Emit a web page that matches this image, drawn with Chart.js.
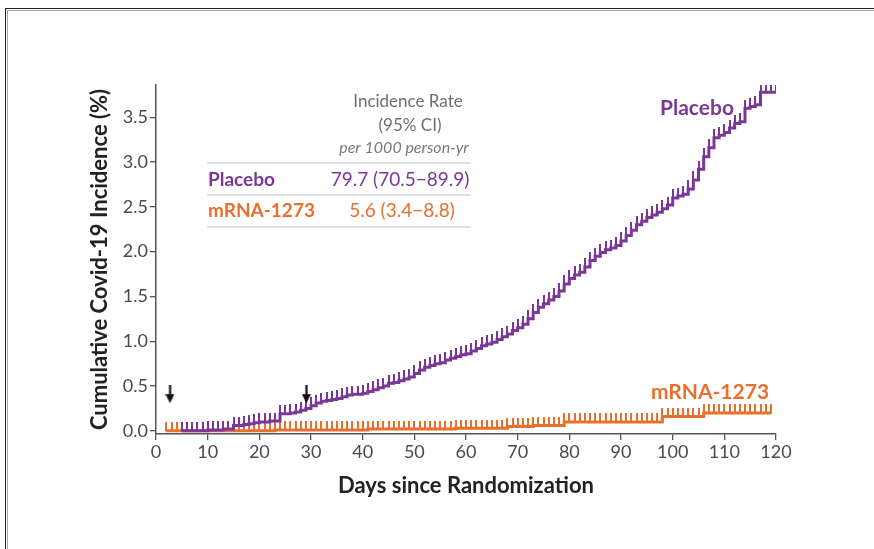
<!DOCTYPE html>
<html>
<head>
<meta charset="utf-8">
<script src="https://cdn.jsdelivr.net/npm/chart.js@4/dist/chart.umd.min.js"></script>
<style>
  html, body { margin: 0; padding: 0; background: #fff; }
  #wrap { position: relative; width: 874px; height: 549px; overflow: hidden; }
  #frame { position: absolute; left: 5px; top: 8px; width: 900px; height: 600px;
           border-top: 1px solid #222; border-left: 1px solid #222; }
  #frame2 { position: absolute; left: 7px; top: 10px; width: 900px; height: 600px;
            border-top: 1px solid #aaa; border-left: 1px solid #aaa; }
  canvas { position: absolute; left: 0; top: 0; }
</style>
</head>
<body>
<div id="wrap">
  <div id="frame"></div>
  <div id="frame2"></div>
  <canvas id="km" width="874" height="549"></canvas>
</div>
<script>
// Kaplan-Meier style cumulative incidence (percent, by day)
const placeboFirstDay = 5;
const placeboPct = [
  0.00, 0.00, 0.00, 0.00, 0.00, 0.01, 0.01, 0.01, 0.02, 0.02,   // days 5-14
  0.06, 0.06, 0.07, 0.08, 0.09, 0.10, 0.10, 0.11, 0.11, 0.19,   // 15-24
  0.19, 0.20, 0.21, 0.23, 0.25, 0.28, 0.31, 0.33, 0.34, 0.35,   // 25-34
  0.36, 0.38, 0.40, 0.41, 0.41, 0.42, 0.44, 0.46, 0.48, 0.50,   // 35-44
  0.53, 0.54, 0.56, 0.58, 0.60, 0.64, 0.68, 0.71, 0.73, 0.75,   // 45-54
  0.76, 0.79, 0.81, 0.83, 0.85, 0.86, 0.89, 0.92, 0.95, 0.97,   // 55-64
  0.99, 1.02, 1.05, 1.08, 1.12, 1.15, 1.19, 1.25, 1.32, 1.38,   // 65-74
  1.42, 1.46, 1.50, 1.56, 1.64, 1.70, 1.74, 1.77, 1.83, 1.90,   // 75-84
  1.95, 1.99, 2.02, 2.04, 2.07, 2.12, 2.18, 2.24, 2.30, 2.34,   // 85-94
  2.38, 2.41, 2.44, 2.48, 2.52, 2.60, 2.62, 2.64, 2.70, 2.80,   // 95-104
  2.92, 3.06, 3.16, 3.27, 3.30, 3.33, 3.38, 3.43, 3.45, 3.60,   // 105-114
  3.62, 3.64, 3.78, 3.78, 3.78, 3.78                            // 115-120
];

const vaccineFirstDay = 2;
const vaccinePct = [
  0.00, 0.00, 0.00, 0.00, 0.00, 0.00, 0.00, 0.00, 0.00, 0.00,   // days 2-11
  0.00, 0.00, 0.00, 0.00, 0.00, 0.00, 0.00, 0.00, 0.00, 0.00,   // 12-21
  0.00, 0.01, 0.01, 0.01, 0.01, 0.01, 0.01, 0.01, 0.01, 0.01,   // 22-31
  0.01, 0.01, 0.01, 0.01, 0.01, 0.01, 0.01, 0.01, 0.01, 0.02,   // 32-41
  0.02, 0.02, 0.02, 0.02, 0.02, 0.02, 0.02, 0.02, 0.02, 0.02,   // 42-51
  0.02, 0.02, 0.02, 0.02, 0.02, 0.02, 0.03, 0.03, 0.03, 0.03,   // 52-61
  0.03, 0.03, 0.03, 0.03, 0.03, 0.03, 0.05, 0.05, 0.05, 0.05,   // 62-71
  0.05, 0.06, 0.06, 0.06, 0.06, 0.06, 0.06, 0.10, 0.10, 0.10,   // 72-81
  0.10, 0.10, 0.10, 0.10, 0.10, 0.10, 0.10, 0.10, 0.10, 0.10,   // 82-91
  0.10, 0.10, 0.10, 0.10, 0.10, 0.10, 0.16, 0.16, 0.16, 0.16,   // 92-101
  0.16, 0.16, 0.16, 0.16, 0.20, 0.20, 0.20, 0.20, 0.20, 0.20,   // 102-111
  0.20, 0.20, 0.20, 0.20, 0.20, 0.20, 0.20, 0.20                // 112-119
];

// arrows marking day of dose 1 and dose 2
const doseDays = [2.7, 29.1];
const doseArrowPct = [0.41, 0.41];

const xTicks = [0, 10, 20, 30, 40, 50, 60, 70, 80, 90, 100, 110, 120];
const yTicks = [0, 0.5, 1.0, 1.5, 2.0, 2.5, 3.0, 3.5];

const PURPLE = '#7b3798';
const ORANGE = '#e8702c';
const FONT = 'Lato, "Open Sans", sans-serif';

function toPoints(firstDay, values) {
  return values.map((v, i) => ({ x: firstDay + i, y: v }));
}

// censoring tick: small vertical bar sitting on top of the line
function censorMark(color) {
  const c = document.createElement('canvas');
  c.width = 2; c.height = 17;
  const g = c.getContext('2d');
  g.fillStyle = color;
  g.fillRect(0, 0, 2, 9);
  return c;
}

function arrowMark() {
  const c = document.createElement('canvas');
  c.width = 9; c.height = 18;
  const g = c.getContext('2d');
  g.fillStyle = '#111';
  g.fillRect(3.5, 0, 2.2, 11);
  g.beginPath();
  g.moveTo(0, 9); g.lineTo(9, 9); g.lineTo(4.5, 18); g.closePath();
  g.fill();
  return c;
}

// table + curve labels
const textPlugin = {
  id: 'figText',
  afterDraw(chart) {
    const ctx = chart.ctx;
    ctx.save();
    ctx.textBaseline = 'middle';
    const put = (txt, x, y, font, color, align) => {
      ctx.font = font; ctx.fillStyle = color; ctx.textAlign = align || 'center';
      ctx.fillText(txt, x, y);
    };
    put('Incidence Rate', 408, 102, '17px ' + FONT, '#6e6e6e');
    put('(95% CI)', 410, 126, '17px ' + FONT, '#6e6e6e');
    put('per 1000 person-yr', 404, 148, 'italic 16px ' + FONT, '#7a7a7a');
    put('Placebo', 208, 180, 'bold 19px ' + FONT, PURPLE, 'left');
    put('79.7 (70.5\u221289.9)', 400, 180, '19px ' + FONT, PURPLE);
    put('mRNA-1273', 208, 211, 'bold 19px ' + FONT, ORANGE, 'left');
    put('5.6 (3.4\u22128.8)', 402, 211, '19px ' + FONT, ORANGE);

    ctx.strokeStyle = '#c4c4c4';
    ctx.lineWidth = 1.2;
    [163, 195, 227].forEach(y => {
      ctx.beginPath(); ctx.moveTo(207, y); ctx.lineTo(471, y); ctx.stroke();
    });

    put('Placebo', 697, 108, 'bold 21px ' + FONT, PURPLE);
    put('mRNA-1273', 710, 392, 'bold 21px ' + FONT, ORANGE);
    ctx.restore();
  }
};

const axisColor = '#555';

new Chart(document.getElementById('km'), {
  type: 'line',
  data: {
    datasets: [
      {
        label: 'mRNA-1273',
        data: toPoints(vaccineFirstDay, vaccinePct),
        borderColor: ORANGE,
        borderWidth: 3,
        stepped: true,
        pointStyle: censorMark(ORANGE),
        pointRadius: 4,
        order: 2,
      },
      {
        label: 'Placebo',
        data: toPoints(placeboFirstDay, placeboPct),
        borderColor: PURPLE,
        borderWidth: 3,
        stepped: true,
        pointStyle: censorMark(PURPLE),
        pointRadius: 4,
        order: 1,
      },
      {
        label: 'dose',
        data: doseDays.map((d, i) => ({ x: d, y: doseArrowPct[i] })),
        showLine: false,
        pointStyle: arrowMark(),
        pointRadius: 6,
        order: 0,
      },
    ],
  },
  options: {
    responsive: false,
    animation: false,
    events: [],
    layout: { padding: { left: 85, right: 98, top: 85, bottom: 47 } },
    plugins: { legend: { display: false }, tooltip: { enabled: false } },
    scales: {
      x: {
        type: 'linear',
        min: 0,
        max: 120,
        afterBuildTicks: s => { s.ticks = xTicks.map(v => ({ value: v })); },
        afterFit: s => { s.height = 68; },
        ticks: { color: '#4a4a4a', font: { family: FONT, size: 18 }, padding: 1, maxRotation: 0 },
        grid: { drawOnChartArea: false, drawTicks: true, tickLength: 6, color: axisColor, lineWidth: 1.3 },
        border: { color: axisColor, width: 1.5 },
        title: {
          display: true, text: 'Days since Randomization', color: '#222',
          font: { family: FONT, size: 22, weight: 'bold' }, padding: 3,
        },
      },
      y: {
        min: -0.035,
        max: 3.86,
        afterBuildTicks: s => { s.ticks = yTicks.map(v => ({ value: v })); },
        afterFit: s => { s.width = 71; },
        ticks: { color: '#4a4a4a', font: { family: FONT, size: 18 }, padding: 2, callback: v => v.toFixed(1) },
        grid: { drawOnChartArea: false, drawTicks: true, tickLength: 6, color: axisColor, lineWidth: 1.3 },
        border: { color: axisColor, width: 1.5 },
        title: {
          display: true, text: 'Cumulative Covid-19 Incidence (%)', color: '#222',
          font: { family: FONT, size: 22, weight: 'bold' }, padding: 2,
        },
      },
    },
  },
  plugins: [textPlugin],
});
</script>
</body>
</html>
